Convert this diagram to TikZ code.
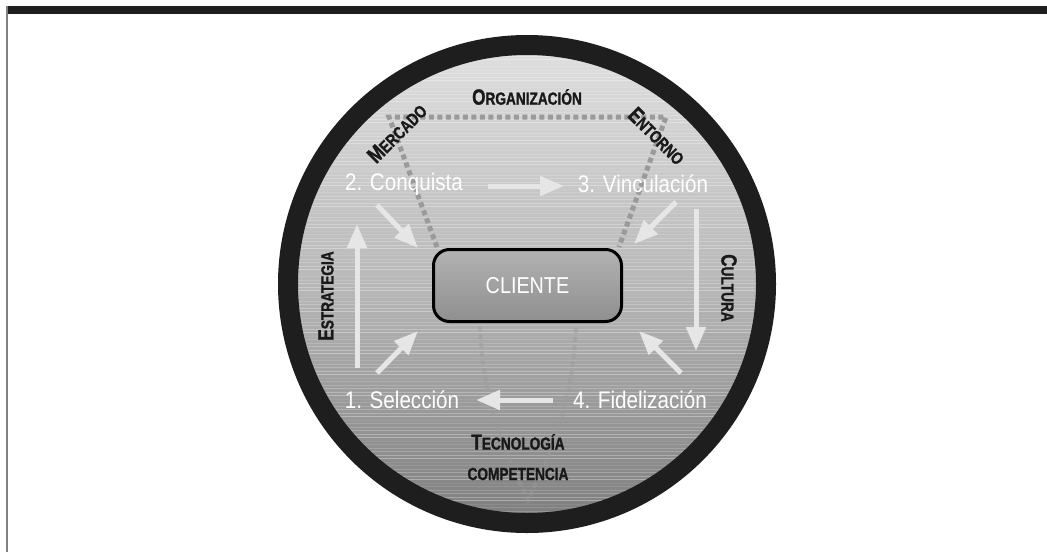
\documentclass[tikz,border=0pt]{standalone}
\usepackage{fontspec}
\usetikzlibrary{arrows.meta}
\newfontfamily\condf[FakeStretch=0.86]{Liberation Sans}
\newfontfamily\condb[FakeStretch=0.78,FakeBold=1.2]{Liberation Sans Bold}
\newcommand\capsc[2]{{\fontsize{22}{24}\selectfont #1}{\fontsize{17.5}{20}\selectfont #2}}
\definecolor{ring}{HTML}{1E1E1E}
\definecolor{arrowc}{HTML}{E6E6E6}
\definecolor{dotc}{HTML}{9A9A9A}
\tikzset{
  stage/.style={text=white,font=\condf\fontsize{24}{28}\selectfont,inner sep=0pt},
  factor/.style={text=black!90,font=\condb,inner sep=0pt},
  flow/.style={draw=arrowc,line width=5pt,-{Triangle[width=19pt,length=24pt]}},
  dotline/.style={draw=dotc,line width=5pt,dash pattern=on 5pt off 3.5pt},
  faintline/.style={draw=dotc,line width=4pt,dash pattern=on 5pt off 3.5pt,opacity=0.45},
}
\begin{document}
\begin{tikzpicture}[x=1pt,y=-1pt]
\useasboundingbox (0,0) rectangle (1047,552);
% frame
\fill[ring] (6,6) rectangle (1047,14);
\draw[gray,line width=2pt] (7,6) -- (7,552);
% disc
\coordinate (cc) at (527,284);
\shade[top color=black!13,bottom color=black!50,middle color=black!28] (cc) circle (230);
\begin{scope}
\clip (cc) circle (230);
\foreach \yy [evaluate=\yy as \op using {0.08+0.10*mod(\yy,3)}] in {56,59.5,...,514}
  \draw[white,opacity=\op,line width=0.7pt] (290,\yy) -- (770,\yy);
\end{scope}
\draw[ring,line width=20pt] (cc) circle (239);
% dotted lines
\coordinate (dl) at (437,247);
\coordinate (tl) at (389,117);
\coordinate (tr) at (666,117);
\coordinate (dr) at (619,247);
\draw[dotline] (dl) -- (tl) -- (tr) -- (dr);
\coordinate (bl) at (480,326);
\coordinate (bb) at (528,500);
\coordinate (br) at (576,326);
\draw[faintline] (bl) .. controls (484,420) and (515,470) .. (bb) .. controls (541,470) and (572,420) .. (br);
% client box
\node[draw=black,line width=3pt,rounded corners=16pt,minimum width=188pt,minimum height=72pt,
  top color=black!30,bottom color=black!44,text=white,font=\condf\fontsize{23}{26}\selectfont]
  (cli) at (527.5,285.5) {CLIENTE};
% stages
\node[stage] (s2) at (404,184) {2. Conquista};
\node[stage] (s3) at (643,184) {3. Vinculación};
\node[stage] (s1) at (402,400) {1. Selección};
\node[stage] (s4) at (640,400) {4. Fidelización};
% factor labels
\node[factor] (org) at (527,97) {\capsc{O}{RGANIZACIÓN}};
\node[factor,rotate=45] (mer) at (397,133) {\capsc{M}{ERCADO}};
\node[factor,rotate=-45] (ent) at (657,136) {\capsc{E}{NTORNO}};
\node[factor,rotate=90] (est) at (326,296) {\capsc{E}{STRATEGIA}};
\node[factor,rotate=-90] (cul) at (729,288) {\capsc{C}{ULTURA}};
\node[factor] (tec) at (518,442) {\capsc{T}{ECNOLOGÍA}};
\node[factor,font=\condb\fontsize{17.5}{20}\selectfont] (com) at (518,474) {COMPETENCIA};
% arrow ends
\coordinate (a23s) at (488,186); \coordinate (a23e) at (564,186);
\coordinate (a41s) at (553,400); \coordinate (a41e) at (476,400);
\coordinate (a12s) at (357,368); \coordinate (a12e) at (357,224);
\coordinate (a34s) at (696,209); \coordinate (a34e) at (696,351);
\coordinate (c2s) at (377,205); \coordinate (c2e) at (418,248);
\coordinate (c1s) at (377,373); \coordinate (c1e) at (418,331);
\coordinate (c3s) at (676,202); \coordinate (c3e) at (634,244);
\coordinate (c4s) at (681,373); \coordinate (c4e) at (639,331);
\draw[flow] (a23s) -- (a23e);
\draw[flow] (a41s) -- (a41e);
\draw[flow] (a12s) -- (a12e);
\draw[flow] (a34s) -- (a34e);
\draw[flow] (c2s) -- (c2e);
\draw[flow] (c1s) -- (c1e);
\draw[flow] (c3s) -- (c3e);
\draw[flow] (c4s) -- (c4e);
\end{tikzpicture}
\end{document}
